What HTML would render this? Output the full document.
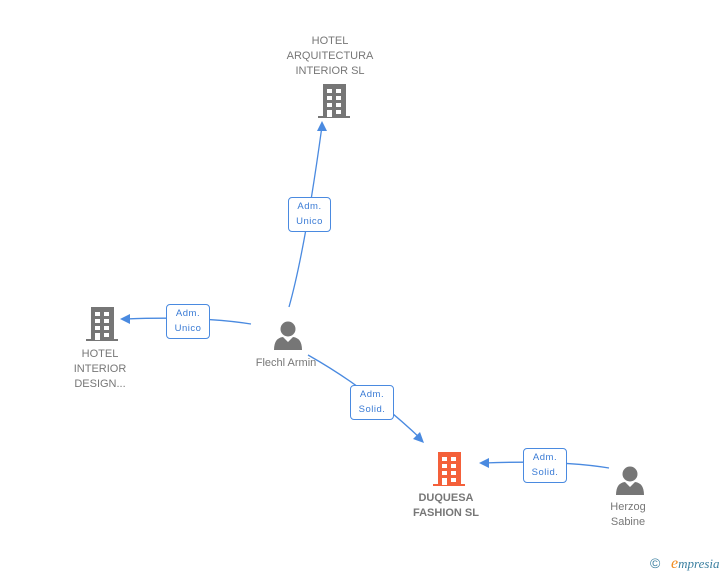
<!DOCTYPE html>
<html><head><style>
body{margin:0;width:728px;height:575px;background:#fff;overflow:hidden;font-family:"Liberation Sans",Arial,sans-serif}
.t{position:absolute;font-size:11px;color:#777;text-align:center;line-height:15px}
.l{position:absolute;background:#fff;border:1px solid #4a8ae0;border-radius:4px;color:#3a7bd5;font-size:9.5px;line-height:15px;text-align:center;letter-spacing:.5px}
</style></head><body>
<svg width="728" height="575" style="position:absolute;left:0;top:0">
<defs>
<g id="b"><rect x="5" y="0" width="23" height="33"/><rect x="0" y="32" width="32" height="2"/>
<g fill="#fff"><rect x="9" y="5" width="5" height="4"/><rect x="18" y="5" width="5" height="4"/><rect x="9" y="12" width="5" height="4"/><rect x="18" y="12" width="5" height="4"/><rect x="9" y="19" width="5" height="4"/><rect x="18" y="19" width="5" height="4"/><rect x="9" y="26" width="5" height="7"/><rect x="18" y="26" width="5" height="4"/></g></g>
<g id="p"><circle cx="14" cy="9" r="7.5"/><path d="M0 30 Q0 18 9 17 L14 22 L19 17 Q28 18 28 30 Z"/></g>
</defs>
<g stroke="#4a8ae0" stroke-width="1.3" fill="none">
<path d="M289 307 Q305 250 322 126"/>
<path d="M251 324 Q200 316 125 319"/>
<path d="M308 355 Q370 390 422 440"/>
<path d="M609 468 Q560 460 484 463"/>
</g>
<g fill="#4a8ae0">
<path d="M322 121 L317 131 L327 131 Z"/>
<path d="M120 319 L130 314 L130 324 Z"/>
<path d="M424 443 L413 439 L420 432 Z"/>
<path d="M479 463 L489 458 L489 468 Z"/>
</g>
<use href="#b" x="318" y="84" fill="#767676"/>
<use href="#b" x="86" y="307" fill="#767676"/>
<use href="#b" x="433" y="452" fill="#f4603a"/>
<use href="#p" x="274" y="320" fill="#767676"/>
<use href="#p" x="616" y="465" fill="#767676"/>
</svg>
<div class="t" style="left:280px;top:34px;width:100px">HOTEL<br>ARQUITECTURA<br>INTERIOR SL</div>
<div class="t" style="left:60px;top:347px;width:80px">HOTEL<br>INTERIOR<br>DESIGN...</div>
<div class="t" style="left:236px;top:356px;width:100px">Flechl Armin</div>
<div class="t" style="left:396px;top:491px;width:100px;font-weight:bold">DUQUESA<br>FASHION SL</div>
<div class="t" style="left:593px;top:500px;width:70px">Herzog<br>Sabine</div>
<div class="l" style="left:288px;top:197px;width:41px;height:32px;padding-top:1px">Adm.<br>Unico</div>
<div class="l" style="left:166px;top:304px;width:42px;height:32px;padding-top:1px">Adm.<br>Unico</div>
<div class="l" style="left:350px;top:385px;width:42px;height:32px;padding-top:1px">Adm.<br>Solid.</div>
<div class="l" style="left:523px;top:448px;width:42px;height:32px;padding-top:1px">Adm.<br>Solid.</div>
<div style="position:absolute;left:650px;top:555px;font-size:14px;color:#3a7fa0">©</div>
<div style="position:absolute;left:671px;top:555px;font-size:13px;font-style:italic;color:#3a7fa0;font-family:'Liberation Serif',serif"><span style="color:#f08a1c;font-size:16px">e</span>mpresia</div>
</body></html>
